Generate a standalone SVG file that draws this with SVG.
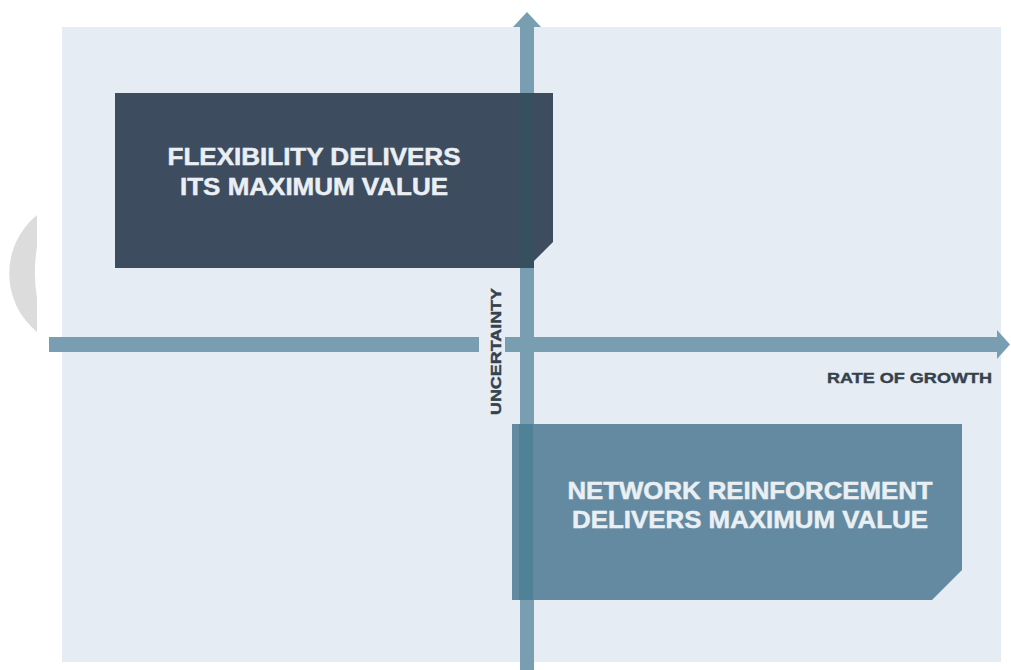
<svg xmlns="http://www.w3.org/2000/svg" width="1011" height="670" viewBox="0 0 1011 670">
  <style>
    .box-label { font-family: "Liberation Sans", Arial, sans-serif; font-weight: bold; font-size: 23.5px; fill: #eaeff3; stroke: #eaeff3; stroke-width: 0.5px; text-anchor: middle; }
    .axis-label { font-family: "Liberation Sans", Arial, sans-serif; font-weight: bold; font-size: 15.5px; fill: #35414c; stroke: #35414c; stroke-width: 0.4px; }
    .axis { fill: #7a9eb1; }
  </style>

  <!-- page and plot panel -->
  <rect x="0" y="0" width="1011" height="670" fill="#ffffff"/>
  <path d="M37,215 A75.5,75.5 0 0 0 37,332 L37,298 A157,157 0 0 1 37,247 Z" fill="#dcdcdc"/>
  <rect x="62" y="27" width="939" height="635" fill="#e6ecf3"/>

  <!-- axes -->
  <g id="connectors">
    <!-- horizontal axis: rate of growth -->
    <rect class="axis" x="49" y="337" width="430" height="15"/>
    <rect class="axis" x="505" y="337" width="496" height="15"/>
    <polygon class="axis" points="997,330 1010,344.5 997,359"/>
    <!-- vertical axis: uncertainty -->
    <rect class="axis" x="520" y="24" width="14" height="646"/>
    <polygon class="axis" points="513,27 527,12 541,27"/>
  </g>

  <!-- upper-left quadrant box -->
  <g id="flexibility">
    <polygon points="115,93 553,93 553,242 527,268 115,268" fill="#3e4c5f"/>
    <rect x="520" y="93" width="14" height="175" fill="#36505f"/>
    <text class="box-label" x="314" y="165" textLength="293" lengthAdjust="spacingAndGlyphs">FLEXIBILITY DELIVERS</text>
    <text class="box-label" x="314" y="195" textLength="268" lengthAdjust="spacingAndGlyphs">ITS MAXIMUM VALUE</text>
  </g>

  <!-- lower-right quadrant box -->
  <g id="network-reinforcement">
    <polygon points="512,424 962,424 962,570 932,600 512,600" fill="#648aa1"/>
    <rect x="519" y="424" width="14" height="176" fill="#4f8297"/>
    <text class="box-label" x="750" y="499" textLength="365" lengthAdjust="spacingAndGlyphs">NETWORK REINFORCEMENT</text>
    <text class="box-label" x="750" y="528" textLength="356" lengthAdjust="spacingAndGlyphs">DELIVERS MAXIMUM VALUE</text>
  </g>

  <!-- axis titles -->
  <g id="axis-labels">
    <text class="axis-label" x="827" y="383" textLength="165" lengthAdjust="spacingAndGlyphs">RATE OF GROWTH</text>
    <text class="axis-label" transform="translate(501,415) rotate(-90)" x="0" y="0" textLength="127" lengthAdjust="spacingAndGlyphs">UNCERTAINTY</text>
  </g>
</svg>
